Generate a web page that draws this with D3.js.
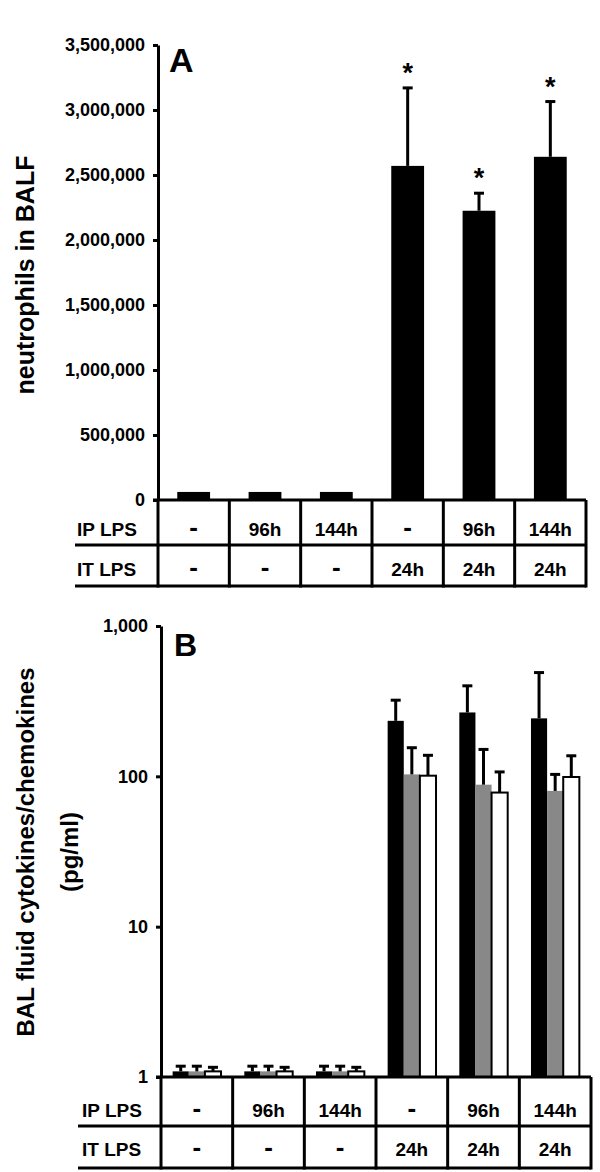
<!DOCTYPE html>
<html>
<head>
<meta charset="utf-8">
<script src="https://cdn.jsdelivr.net/npm/d3@7"></script>
<style>
body { margin: 0; background: #fff; }
text { font-family: "Liberation Sans", Arial, sans-serif; font-weight: bold; fill: #000; }
</style>
</head>
<body>
<div id="chart"></div>
<script>
// table rows under both panels
var ipLps = ["-", "96h", "144h", "-", "96h", "144h"];
var itLps = ["-", "-", "-", "24h", "24h", "24h"];

// panel A: neutrophils in BALF (mean, mean+SD)
var neutrophils    = [62000, 62000, 62000, 2570000, 2225000, 2640000];
var neutrophilsErr = [null, null, null, 3170000, 2360000, 3065000];
var signif         = [false, false, false, true, true, true];
var ticksA = [0, 500000, 1000000, 1500000, 2000000, 2500000, 3000000, 3500000];

// panel B: cytokines/chemokines, three series per group (black, grey, white)
var cytoBlack    = [1.09, 1.09, 1.09, 234, 266, 243];
var cytoBlackErr = [1.18, 1.18, 1.18, 321, 400, 490];
var cytoGrey     = [1.09, 1.09, 1.09, 103, 88, 80];
var cytoGreyErr  = [1.18, 1.18, 1.18, 155, 151, 103];
var cytoWhite    = [1.09, 1.09, 1.09, 101, 78, 99];
var cytoWhiteErr = [1.16, 1.16, 1.16, 138, 107, 137];
var ticksB = [1, 10, 100, 1000];

var W = 600, H = 1172;
var svg = d3.select("#chart").append("svg")
	.attr("width", W)
	.attr("height", H);

var lw = 3;

function cellText(sel)
{
	// dashes drawn a bit bigger so they look like the thick marks of the original
	sel.style("font-size", function(d){ return d == "-" ? "26px" : "19px"; })
		.text(function(d){ return d; });
}

function drawTable(g, x, top, mid, bottom, labelX, lineX0, ipY, itY)
{
	// horizontal lines
	g.append("line").attr("x1", x.range()[0] - 5).attr("x2", x.range()[1])
		.attr("y1", top).attr("y2", top);
	g.append("line").attr("x1", lineX0).attr("x2", x.range()[1])
		.attr("y1", mid).attr("y2", mid);
	g.append("line").attr("x1", lineX0).attr("x2", x.range()[1])
		.attr("y1", bottom).attr("y2", bottom);
	// vertical lines
	var xs = x.domain().map(function(d){ return x(d); }).concat([x.range()[1]]);
	g.selectAll(".vl").data(xs).enter().append("line")
		.attr("x1", function(d){ return d; }).attr("x2", function(d){ return d; })
		.attr("y1", top).attr("y2", bottom + lw/2);
	g.selectAll("line").attr("stroke", "#000").attr("stroke-width", lw);

	g.append("text").attr("x", labelX).attr("y", ipY).style("font-size", "19px").text("IP LPS");
	g.append("text").attr("x", labelX).attr("y", itY).style("font-size", "19px").text("IT LPS");

	g.selectAll(".ip").data(ipLps).enter().append("text")
		.attr("x", function(d, i){ return x(i) + x.bandwidth()/2; })
		.attr("y", ipY)
		.attr("text-anchor", "middle")
		.call(cellText);
	g.selectAll(".it").data(itLps).enter().append("text")
		.attr("x", function(d, i){ return x(i) + x.bandwidth()/2; })
		.attr("y", itY)
		.attr("text-anchor", "middle")
		.call(cellText);
}

function styleAxis(ax)
{
	ax.select(".domain").attr("stroke-width", lw).attr("stroke", "#000");
	ax.selectAll(".tick line").attr("stroke-width", lw).attr("stroke", "#000");
	ax.selectAll(".tick text")
		.style("font-size", "18px")
		.style("font-family", "'Liberation Sans', Arial, sans-serif")
		.style("font-weight", "bold");
}

////////////////////////////////////////////////////////////////////////
// Panel A
var xA = d3.scaleBand().domain(d3.range(6)).range([158, 586]);
var yA = d3.scaleLinear().domain([0, 3500000]).range([500, 45]);
var gA = svg.append("g");

var barW = xA.bandwidth() * 0.46;
gA.selectAll(".barA").data(neutrophils).enter().append("rect")
	.attr("x", function(d, i){ return xA(i) + (xA.bandwidth() - barW)/2; })
	.attr("y", function(d){ return yA(d); })
	.attr("width", barW)
	.attr("height", function(d){ return yA(0) - yA(d); })
	.attr("fill", "#000");

neutrophilsErr.forEach(function(e, i){
	if (e == null) return;
	var cx = xA(i) + xA.bandwidth()/2;
	gA.append("line").attr("x1", cx).attr("x2", cx)
		.attr("y1", yA(neutrophils[i])).attr("y2", yA(e))
		.attr("stroke", "#000").attr("stroke-width", lw);
	gA.append("line").attr("x1", cx - 5).attr("x2", cx + 5)
		.attr("y1", yA(e)).attr("y2", yA(e))
		.attr("stroke", "#000").attr("stroke-width", lw);
	if (signif[i])
		gA.append("text").attr("x", cx).attr("y", yA(e) - 6)
			.attr("text-anchor", "middle")
			.style("font-size", "27px")
			.text("*");
});

var axA = gA.append("g").attr("transform", "translate(158,0)")
	.call(d3.axisLeft(yA).tickValues(ticksA).tickSize(5).tickSizeOuter(0)
		.tickPadding(8).tickFormat(d3.format(",")));
styleAxis(axA);

gA.append("text").attr("x", 169).attr("y", 72).style("font-size", "34px").text("A");
gA.append("text")
	.attr("transform", "rotate(-90)")
	.attr("x", -275).attr("y", 34)
	.attr("text-anchor", "middle")
	.style("font-size", "25px")
	.text("neutrophils in BALF");

drawTable(gA.append("g"), xA, 500, 545, 586, 77, 75, 536, 576);

////////////////////////////////////////////////////////////////////////
// Panel B
var xB = d3.scaleBand().domain(d3.range(6)).range([161, 591]);
var yB = d3.scaleLog().domain([1, 1000]).range([1077, 626]);
var gB = svg.append("g");

var subW = xB.bandwidth() * 0.225;
var series = [
	{ vals: cytoBlack, errs: cytoBlackErr, fill: "#000" },
	{ vals: cytoGrey,  errs: cytoGreyErr,  fill: "#888" },
	{ vals: cytoWhite, errs: cytoWhiteErr, fill: "#fff" }
];

series.forEach(function(s, k){
	var off = function(i){ return xB(i) + xB.bandwidth()/2 - 1.5*subW + k*subW; };
	gB.selectAll(".bar" + k).data(s.vals).enter().append("rect")
		.attr("x", function(d, i){ return off(i); })
		.attr("y", function(d){ return yB(d); })
		.attr("width", subW)
		.attr("height", function(d){ return yB(1) - yB(d); })
		.attr("fill", s.fill)
		.attr("stroke", "#000")
		.attr("stroke-width", k == 2 ? 2 : 0);
	s.errs.forEach(function(e, i){
		var cx = off(i) + subW/2;
		gB.append("line").attr("x1", cx).attr("x2", cx)
			.attr("y1", yB(s.vals[i])).attr("y2", yB(e))
			.attr("stroke", "#000").attr("stroke-width", lw);
		gB.append("line").attr("x1", cx - 5).attr("x2", cx + 5)
			.attr("y1", yB(e)).attr("y2", yB(e))
			.attr("stroke", "#000").attr("stroke-width", lw);
	});
});

var axB = gB.append("g").attr("transform", "translate(161,0)")
	.call(d3.axisLeft(yB).tickValues(ticksB).tickSize(5).tickSizeOuter(0)
		.tickPadding(8).tickFormat(d3.format(",")));
styleAxis(axB);

gB.append("text").attr("x", 174).attr("y", 656).style("font-size", "32px").text("B");
gB.append("text")
	.attr("transform", "rotate(-90)")
	.attr("x", -852).attr("y", 34)
	.attr("text-anchor", "middle")
	.style("font-size", "24px")
	.text("BAL fluid cytokines/chemokines");
gB.append("text")
	.attr("transform", "rotate(-90)")
	.attr("x", -852).attr("y", 78)
	.attr("text-anchor", "middle")
	.style("font-size", "24px")
	.text("(pg/ml)");

drawTable(gB.append("g"), xB, 1077, 1126, 1168, 82, 78, 1117, 1156);
</script>
</body>
</html>
